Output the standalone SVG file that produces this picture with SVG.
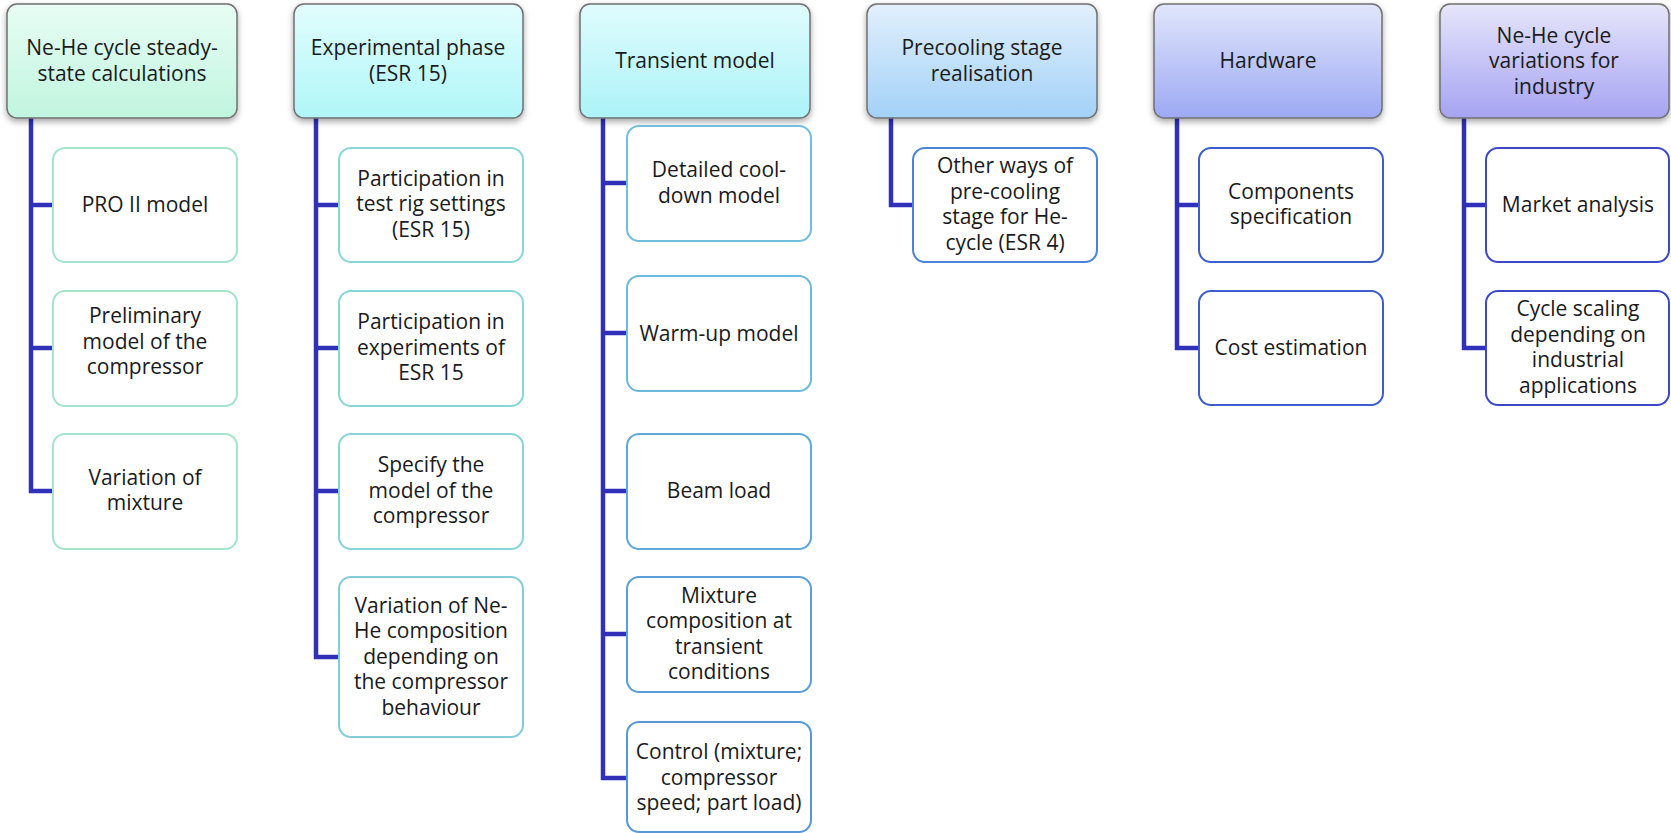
<svg xmlns="http://www.w3.org/2000/svg" width="1671" height="833" viewBox="0 0 1671 833">
<style>
text{font-family:"Open Sans","Noto Sans","DejaVu Sans",sans-serif;font-size:21px;fill:#1a1a1a;text-anchor:middle}
.hdr{stroke:#707070;stroke-width:1.5;filter:url(#sh)}
.ch{fill:#fff;stroke-width:2}
.conn{fill:none;stroke:#3030b8;stroke-width:4.5;stroke-linejoin:miter}
</style>
<defs>
<filter id="sh" x="-10%" y="-10%" width="120%" height="130%"><feDropShadow dx="0" dy="3" stdDeviation="3" flood-color="#000" flood-opacity="0.35"/></filter>
<linearGradient id="g1" x1="0" y1="0" x2="0" y2="1"><stop offset="0" stop-color="#e8fdf5"/><stop offset="1" stop-color="#c0f5df"/></linearGradient>
<linearGradient id="g2" x1="0" y1="0" x2="0" y2="1"><stop offset="0" stop-color="#e2fdfd"/><stop offset="1" stop-color="#b0f6f8"/></linearGradient>
<linearGradient id="g3" x1="0" y1="0" x2="0" y2="1"><stop offset="0" stop-color="#e0fcfd"/><stop offset="1" stop-color="#acf3f9"/></linearGradient>
<linearGradient id="g4" x1="0" y1="0" x2="0" y2="1"><stop offset="0" stop-color="#e2f0fc"/><stop offset="1" stop-color="#a2d1f8"/></linearGradient>
<linearGradient id="g5" x1="0" y1="0" x2="0" y2="1"><stop offset="0" stop-color="#e0e6fb"/><stop offset="1" stop-color="#9da9f4"/></linearGradient>
<linearGradient id="g6" x1="0" y1="0" x2="0" y2="1"><stop offset="0" stop-color="#e6e6fb"/><stop offset="1" stop-color="#a6a3f2"/></linearGradient>
</defs>
<g id="connectors">
<path class="conn" d="M31,118 V491 H53 M31,205 H53 M31,348 H53"/>
<path class="conn" d="M316,118 V657 H339 M316,205 H339 M316,348 H339 M316,491 H339"/>
<path class="conn" d="M603,118 V778 H627 M603,183 H627 M603,333 H627 M603,491 H627 M603,634 H627"/>
<path class="conn" d="M891,118 V205 H913"/>
<path class="conn" d="M1177,118 V348 H1199 M1177,205 H1199"/>
<path class="conn" d="M1464,118 V348 H1486 M1464,205 H1486"/>
</g>
<g id="h1"><rect class="hdr" x="7" y="4" width="230" height="114" rx="10" fill="url(#g1)"/><text x="122" y="55">Ne-He cycle steady-</text><text x="122" y="81">state calculations</text></g>
<g id="c1a"><rect class="ch" stroke="#a6e3cb" x="53" y="148" width="184" height="114" rx="12"/><text x="145" y="212">PRO II model</text></g>
<g id="c1b"><rect class="ch" stroke="#a6e3cb" x="53" y="291" width="184" height="115" rx="12"/><text x="145" y="323">Preliminary</text><text x="145" y="349">model of the</text><text x="145" y="374">compressor</text></g>
<g id="c1c"><rect class="ch" stroke="#a6e3cb" x="53" y="434" width="184" height="115" rx="12"/><text x="145" y="485">Variation of</text><text x="145" y="510">mixture</text></g>
<g id="h2"><rect class="hdr" x="294" y="4" width="229" height="114" rx="10" fill="url(#g2)"/><text x="408" y="55">Experimental phase</text><text x="408" y="81">(ESR 15)</text></g>
<g id="c2a"><rect class="ch" stroke="#8ad6d6" x="339" y="148" width="184" height="114" rx="12"/><text x="431" y="186">Participation in</text><text x="431" y="211">test rig settings</text><text x="431" y="237">(ESR 15)</text></g>
<g id="c2b"><rect class="ch" stroke="#8ad6d6" x="339" y="291" width="184" height="115" rx="12"/><text x="431" y="329">Participation in</text><text x="431" y="355">experiments of</text><text x="431" y="380">ESR 15</text></g>
<g id="c2c"><rect class="ch" stroke="#88d4d8" x="339" y="434" width="184" height="115" rx="12"/><text x="431" y="472">Specify the</text><text x="431" y="498">model of the</text><text x="431" y="523">compressor</text></g>
<g id="c2d"><rect class="ch" stroke="#84ccd8" x="339" y="577" width="184" height="160" rx="12"/><text x="431" y="613">Variation of Ne-</text><text x="431" y="638">He composition</text><text x="431" y="664">depending on</text><text x="431" y="689">the compressor</text><text x="431" y="715">behaviour</text></g>
<g id="h3"><rect class="hdr" x="580" y="4" width="230" height="114" rx="10" fill="url(#g3)"/><text x="695" y="68">Transient model</text></g>
<g id="c3a"><rect class="ch" stroke="#72bedc" x="627" y="126" width="184" height="115" rx="12"/><text x="719" y="177">Detailed cool-</text><text x="719" y="203">down model</text></g>
<g id="c3b"><rect class="ch" stroke="#6cbada" x="627" y="276" width="184" height="115" rx="12"/><text x="719" y="341">Warm-up model</text></g>
<g id="c3c"><rect class="ch" stroke="#60a8d8" x="627" y="434" width="184" height="115" rx="12"/><text x="719" y="498">Beam load</text></g>
<g id="c3d"><rect class="ch" stroke="#5c9ed8" x="627" y="577" width="184" height="115" rx="12"/><text x="719" y="603">Mixture</text><text x="719" y="628">composition at</text><text x="719" y="654">transient</text><text x="719" y="679">conditions</text></g>
<g id="c3e"><rect class="ch" stroke="#5898d8" x="627" y="722" width="184" height="110" rx="12"/><text x="719" y="759">Control (mixture;</text><text x="719" y="785">compressor</text><text x="719" y="810">speed; part load)</text></g>
<g id="h4"><rect class="hdr" x="867" y="4" width="230" height="114" rx="10" fill="url(#g4)"/><text x="982" y="55">Precooling stage</text><text x="982" y="81">realisation</text></g>
<g id="c4a"><rect class="ch" stroke="#4a84d8" x="913" y="148" width="184" height="114" rx="12"/><text x="1005" y="173">Other ways of</text><text x="1005" y="199">pre-cooling</text><text x="1005" y="224">stage for He-</text><text x="1005" y="250">cycle (ESR 4)</text></g>
<g id="h5"><rect class="hdr" x="1154" y="4" width="228" height="114" rx="10" fill="url(#g5)"/><text x="1268" y="68">Hardware</text></g>
<g id="c5a"><rect class="ch" stroke="#3c5ccf" x="1199" y="148" width="184" height="114" rx="12"/><text x="1291" y="199">Components</text><text x="1291" y="224">specification</text></g>
<g id="c5b"><rect class="ch" stroke="#3c5ccf" x="1199" y="291" width="184" height="114" rx="12"/><text x="1291" y="355">Cost estimation</text></g>
<g id="h6"><rect class="hdr" x="1440" y="4" width="229" height="114" rx="10" fill="url(#g6)"/><text x="1554" y="43">Ne-He cycle</text><text x="1554" y="68">variations for</text><text x="1554" y="94">industry</text></g>
<g id="c6a"><rect class="ch" stroke="#3c48c8" x="1486" y="148" width="183" height="114" rx="12"/><text x="1578" y="212">Market analysis</text></g>
<g id="c6b"><rect class="ch" stroke="#3c48c8" x="1486" y="291" width="183" height="114" rx="12"/><text x="1578" y="316">Cycle scaling</text><text x="1578" y="342">depending on</text><text x="1578" y="367">industrial</text><text x="1578" y="393">applications</text></g>
</svg>
